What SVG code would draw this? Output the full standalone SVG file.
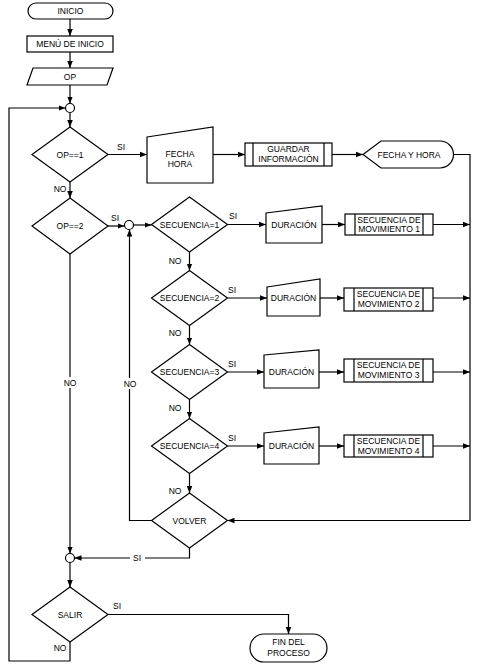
<svg xmlns="http://www.w3.org/2000/svg" width="480" height="664" viewBox="0 0 480 664">
<style>
.s{fill:#fff;stroke:#000;stroke-width:1.2}
.c{fill:none;stroke:#000;stroke-width:1.2}
.t{font-family:"Liberation Sans",Arial,sans-serif;font-size:8.5px;fill:#000;text-anchor:middle}
.l{font-family:"Liberation Sans",Arial,sans-serif;font-size:8.5px;fill:#000;text-anchor:middle}
.bg{fill:#fff}
</style>
<defs>
<marker id="arr" viewBox="0 0 10 10" refX="10" refY="5" markerWidth="7" markerHeight="7" markerUnits="userSpaceOnUse" orient="auto"><path d="M0,1 L10,5 L0,9 Z" fill="#000"/></marker>
</defs>
<rect width="480" height="664" fill="#fff"/>
<g id="connectors">
<path class="c" d="M70,19 V36" marker-end="url(#arr)"/>
<path class="c" d="M70,52 V68" marker-end="url(#arr)"/>
<path class="c" d="M70,85 V103.5" marker-end="url(#arr)"/>
<path class="c" d="M70,112.5 V127" marker-end="url(#arr)"/>
<path class="c" d="M108,154.5 H147" marker-end="url(#arr)"/>
<path class="c" d="M213,154.5 H245" marker-end="url(#arr)"/>
<path class="c" d="M332,154.5 H363" marker-end="url(#arr)"/>
<path class="c" d="M453.5,154.5 H470 V520.5 H227.5" marker-end="url(#arr)"/>
<path class="c" d="M70,182 V198" marker-end="url(#arr)"/>
<path class="c" d="M108,226 H124.5" marker-end="url(#arr)"/>
<path class="c" d="M133.5,225 H151.5" marker-end="url(#arr)"/>
<path class="c" d="M227.5,224.5 H266" marker-end="url(#arr)"/>
<path class="c" d="M322,224.5 H345" marker-end="url(#arr)"/>
<path class="c" d="M433,224.5 H470" marker-end="url(#arr)"/>
<path class="c" d="M227.5,298 H267" marker-end="url(#arr)"/>
<path class="c" d="M320,298 H344" marker-end="url(#arr)"/>
<path class="c" d="M433,298 H470" marker-end="url(#arr)"/>
<path class="c" d="M227.5,372 H264" marker-end="url(#arr)"/>
<path class="c" d="M319,372 H344" marker-end="url(#arr)"/>
<path class="c" d="M433,372 H470" marker-end="url(#arr)"/>
<path class="c" d="M227.5,446 H264" marker-end="url(#arr)"/>
<path class="c" d="M319,446 H344" marker-end="url(#arr)"/>
<path class="c" d="M433,446 H470" marker-end="url(#arr)"/>
<path class="c" d="M189.5,252 V270.5" marker-end="url(#arr)"/>
<path class="c" d="M189.5,325.5 V344.5" marker-end="url(#arr)"/>
<path class="c" d="M189.5,399.5 V418.5" marker-end="url(#arr)"/>
<path class="c" d="M189.5,473.5 V493" marker-end="url(#arr)"/>
<path class="c" d="M151.5,520.5 H129.5 V229.5" marker-end="url(#arr)"/>
<path class="c" d="M189.5,548 V558 H74.5" marker-end="url(#arr)"/>
<path class="c" d="M70,254 V553.5" marker-end="url(#arr)"/>
<path class="c" d="M70,562.5 V587" marker-end="url(#arr)"/>
<path class="c" d="M108,614.5 H288.5 V634" marker-end="url(#arr)"/>
<path class="c" d="M70,642 V661 H9 V108 H65.5" marker-end="url(#arr)"/>
<g id="labels">
<text class="l" x="121" y="150">SI</text>
<text class="l" x="60" y="192">NO</text>
<text class="l" x="115" y="221">SI</text>
<rect class="bg" x="62" y="377" width="16" height="11"/>
<text class="l" x="70" y="386">NO</text>
<rect class="bg" x="122" y="378" width="16" height="11"/>
<text class="l" x="130" y="387">NO</text>
<text class="l" x="233" y="219">SI</text>
<text class="l" x="175" y="264">NO</text>
<text class="l" x="232" y="293">SI</text>
<text class="l" x="175" y="336">NO</text>
<text class="l" x="232" y="367">SI</text>
<text class="l" x="175" y="411">NO</text>
<text class="l" x="232" y="441">SI</text>
<text class="l" x="175" y="494">NO</text>
<rect class="bg" x="130" y="553" width="15" height="10"/>
<text class="l" x="137" y="561">SI</text>
<text class="l" x="117" y="609">SI</text>
<text class="l" x="60" y="651">NO</text>
</g>
</g>
<g id="inicio"><rect class="s" x="28" y="3" width="85" height="16" rx="8"/><text class="t" x="70.5" y="14">INICIO</text></g>
<g id="menu"><rect class="s" x="27" y="36" width="86" height="16"/><text class="t" x="70" y="47">MENÚ DE INICIO</text></g>
<g id="op"><polygon class="s" points="33,68 113,68 107,85 27,85"/><text class="t" x="70" y="79.5">OP</text></g>
<g id="junction1"><circle class="s" cx="70" cy="108" r="4.5"/></g>
<g id="op1"><polygon class="s" points="70,127 108,154.5 70,182 32,154.5"/><text class="t" x="70" y="157.5">OP==1</text></g>
<g id="fechahora"><polygon class="s" points="147,137 213,127 213,183 147,183"/><text class="t" x="180" y="157">FECHA</text><text class="t" x="180" y="167">HORA</text></g>
<g id="guardar"><rect class="s" x="245" y="143" width="87" height="23"/><line class="c" x1="253" y1="143" x2="253" y2="166"/><line class="c" x1="324" y1="143" x2="324" y2="166"/><text class="t" x="288.5" y="152">GUARDAR</text><text class="t" x="288.5" y="162">INFORMACIÓN</text></g>
<g id="display"><path class="s" d="M363,154.5 L381,141 H440 A13.5,13.5 0 0 1 440,168 H381 Z"/><text class="t" x="409" y="157.5">FECHA Y HORA</text></g>
<g id="op2"><polygon class="s" points="70,198 108,226 70,254 32,226"/><text class="t" x="70" y="229">OP==2</text></g>
<g id="junction2"><circle class="s" cx="129" cy="225" r="4.5"/></g>
<g id="sec1"><polygon class="s" points="189.5,197 227.5,224.5 189.5,252 151.5,224.5"/><text class="t" x="189.5" y="227.5">SECUENCIA=1</text></g>
<g id="dur1"><polygon class="s" points="266,213 322,206 322,243 266,243"/><text class="t" x="294" y="228">DURACIÓN</text></g>
<g id="mov1"><rect class="s" x="345" y="214" width="88" height="21"/><line class="c" x1="355" y1="214" x2="355" y2="235"/><line class="c" x1="423" y1="214" x2="423" y2="235"/><text class="t" x="389" y="222.5">SECUENCIA DE</text><text class="t" x="389" y="232">MOVIMIENTO 1</text></g>
<g id="sec2"><polygon class="s" points="189.5,270.5 227.5,298 189.5,325.5 151.5,298"/><text class="t" x="189.5" y="301">SECUENCIA=2</text></g>
<g id="dur2"><polygon class="s" points="267,287 320,279 320,316 267,316"/><text class="t" x="293.5" y="301">DURACIÓN</text></g>
<g id="mov2"><rect class="s" x="344" y="288" width="89" height="23"/><line class="c" x1="354" y1="288" x2="354" y2="311"/><line class="c" x1="423" y1="288" x2="423" y2="311"/><text class="t" x="388.5" y="297">SECUENCIA DE</text><text class="t" x="388.5" y="307">MOVIMIENTO 2</text></g>
<g id="sec3"><polygon class="s" points="189.5,344.5 227.5,372 189.5,399.5 151.5,372"/><text class="t" x="189.5" y="375">SECUENCIA=3</text></g>
<g id="dur3"><polygon class="s" points="264,355 319,350 319,388 264,388"/><text class="t" x="291.5" y="375">DURACIÓN</text></g>
<g id="mov3"><rect class="s" x="344" y="359" width="89" height="23"/><line class="c" x1="354" y1="359" x2="354" y2="382"/><line class="c" x1="423" y1="359" x2="423" y2="382"/><text class="t" x="388.5" y="368">SECUENCIA DE</text><text class="t" x="388.5" y="378">MOVIMIENTO 3</text></g>
<g id="sec4"><polygon class="s" points="189.5,418.5 227.5,446 189.5,473.5 151.5,446"/><text class="t" x="189.5" y="449">SECUENCIA=4</text></g>
<g id="dur4"><polygon class="s" points="264,433 319,427 319,464 264,464"/><text class="t" x="291.5" y="449">DURACIÓN</text></g>
<g id="mov4"><rect class="s" x="344" y="435" width="89" height="22"/><line class="c" x1="354" y1="435" x2="354" y2="457"/><line class="c" x1="423" y1="435" x2="423" y2="457"/><text class="t" x="388.5" y="443.5">SECUENCIA DE</text><text class="t" x="388.5" y="453.5">MOVIMIENTO 4</text></g>
<g id="volver"><polygon class="s" points="189.5,493 227.5,520.5 189.5,548 151.5,520.5"/><text class="t" x="189.5" y="523.5">VOLVER</text></g>
<g id="junction3"><circle class="s" cx="70" cy="558" r="4.5"/></g>
<g id="salir"><polygon class="s" points="70,587 108,614.5 70,642 32,614.5"/><text class="t" x="70" y="617.5">SALIR</text></g>
<g id="fin"><rect class="s" x="250" y="634" width="77" height="28" rx="14"/><text class="t" x="288.5" y="645">FIN DEL</text><text class="t" x="288.5" y="655.5">PROCESO</text></g>
</svg>
